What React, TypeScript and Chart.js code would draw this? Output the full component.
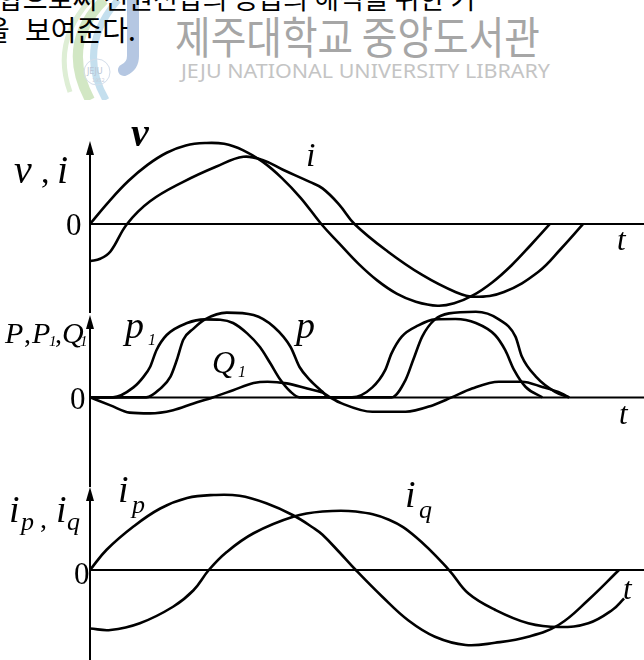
import React, { useEffect, useRef } from "react";
import { Chart, registerables } from "chart.js";

Chart.register(...registerables);

// ---------- data (t in electrical degrees, values per unit of each panel) ----------
const T_MAX = 433.6;

// panel 1: v, i
const V_T = [0, 15, 30, 45, 60, 75, 90, 105, 120, 135, 150, 165, 181, 195, 210, 225, 240, 255, 272, 285, 300, 315, 330, 345, 360];
const V_VAL = [0, 0.28, 0.53, 0.73, 0.88, 0.97, 1.0, 0.99, 0.91, 0.77, 0.57, 0.32, 0, -0.24, -0.49, -0.7, -0.86, -0.96, -1.01, -0.98, -0.88, -0.72, -0.51, -0.26, 0];
const I_T = [0, 8, 16, 29, 47, 73, 99, 120, 135, 151, 172, 182, 195, 207, 233, 260, 286, 301, 324, 351, 369, 386];
const I_VAL = [-0.46, -0.43, -0.34, 0, 0.28, 0.52, 0.71, 0.83, 0.79, 0.67, 0.52, 0.44, 0.24, 0, -0.34, -0.63, -0.84, -0.9, -0.84, -0.59, -0.3, 0];

// panel 2: p, p1, Q1
const P1_T = [0, 18, 34, 42, 47, 52, 60, 76, 90, 102, 112, 123, 133, 141, 149, 157, 164, 205, 221, 231, 236, 244, 257, 270, 286, 302, 317, 325, 332, 341, 354];
const P1_VAL = [0, 0, 0.125, 0.26, 0.38, 0.59, 0.78, 0.93, 0.975, 0.97, 0.93, 0.8, 0.63, 0.43, 0.22, 0.07, 0, 0, 0.125, 0.34, 0.55, 0.76, 0.9, 0.975, 0.98, 0.93, 0.78, 0.59, 0.34, 0.13, 0];
const P_T = [0, 44, 55, 63, 68, 73, 81, 90, 107, 128, 144, 157, 164, 172, 182, 187, 236, 247, 253, 260, 270, 281, 302, 320, 333, 338, 349, 364, 375];
const P_VAL = [0, 0, 0.11, 0.26, 0.47, 0.72, 0.86, 0.975, 1.06, 1.03, 0.88, 0.63, 0.38, 0.22, 0.07, 0, 0, 0.22, 0.47, 0.76, 0.975, 1.05, 1.07, 0.975, 0.76, 0.51, 0.26, 0.07, 0];
const Q1_T = [0, 16, 31, 47, 65, 81, 96, 112, 128, 139, 154, 170, 182, 188, 197, 221, 247, 268, 283, 299, 320, 338, 354, 369, 375];
const Q1_VAL = [0, -0.1, -0.19, -0.2, -0.16, -0.075, 0, 0.09, 0.18, 0.196, 0.175, 0.11, 0.06, 0, -0.075, -0.18, -0.18, -0.1, 0, 0.11, 0.196, 0.196, 0.13, 0.05, 0];

// panel 3: ip, iq
const IP_T = [0, 13, 34, 55, 76, 97, 117, 138, 159, 175, 182, 195, 208, 229, 249, 270, 294, 317, 343, 367, 390, 414];
const IP_VAL = [0, 0.27, 0.58, 0.82, 0.96, 1.0, 0.99, 0.89, 0.73, 0.56, 0.47, 0.24, 0, -0.36, -0.67, -0.89, -1.0, -0.97, -0.89, -0.73, -0.4, 0];
const IQ_T = [0, 16, 39, 65, 81, 93, 107, 128, 159, 182, 208, 234, 255, 281, 296, 317, 343, 367, 390, 409, 418];
const IQ_VAL = [-0.78, -0.8, -0.71, -0.49, -0.27, 0, 0.24, 0.49, 0.71, 0.78, 0.78, 0.67, 0.44, 0, -0.31, -0.53, -0.71, -0.76, -0.71, -0.53, -0.38];

// ---------- helpers ----------
type Run = { s: string; x: number; y: number; size: number; f: "i" | "n" | "bi" };

const pts = (t: number[], v: number[]) => t.map((x, k) => ({ x, y: v[k] }));

const ds = (label: string, t: number[], v: number[], monotone: boolean) => ({
  label,
  data: pts(t, v),
  borderColor: "#000",
  borderWidth: 2.6,
  pointRadius: 0,
  fill: false,
  tension: 0.4,
  cubicInterpolationMode: monotone ? ("monotone" as const) : ("default" as const),
  clip: false as const,
});

function decor(runs: Run[], top: number) {
  return {
    id: "decor",
    afterDatasetsDraw(chart: any) {
      const { ctx, chartArea, scales } = chart;
      const y0 = scales.y.getPixelForValue(0);
      const ax = scales.x.getPixelForValue(0);
      ctx.save();
      ctx.strokeStyle = "#000";
      ctx.fillStyle = "#000";
      ctx.lineWidth = 2;
      ctx.beginPath();
      ctx.moveTo(ax, y0);
      ctx.lineTo(chartArea.right, y0);
      ctx.stroke();
      ctx.beginPath();
      ctx.moveTo(ax, chartArea.top + 6);
      ctx.lineTo(ax, chartArea.bottom);
      ctx.stroke();
      ctx.beginPath();
      ctx.moveTo(ax, chartArea.top);
      ctx.lineTo(ax - 4, chartArea.top + 14);
      ctx.lineTo(ax + 4, chartArea.top + 14);
      ctx.closePath();
      ctx.fill();
      ctx.textBaseline = "alphabetic";
      ctx.textAlign = "left";
      for (const r of runs) {
        const st = r.f === "i" ? "italic " : r.f === "bi" ? "italic bold " : "";
        ctx.font = `${st}${r.size}px "Liberation Serif", "DejaVu Serif", serif`;
        ctx.fillText(r.s, r.x, r.y - top);
      }
      ctx.restore();
    },
  };
}

type PanelProps = {
  top: number;
  height: number;
  padTop: number;
  yMin: number;
  yMax: number;
  datasets: any[];
  runs: Run[];
};

function Panel({ top, height, padTop, yMin, yMax, datasets, runs }: PanelProps) {
  const ref = useRef<HTMLCanvasElement | null>(null);
  useEffect(() => {
    if (!ref.current) return;
    const chart = new Chart(ref.current, {
      type: "line",
      data: { datasets },
      options: {
        animation: false,
        responsive: false,
        maintainAspectRatio: false,
        events: [],
        layout: { padding: { left: 90, right: 0, top: padTop, bottom: 0 } },
        scales: {
          x: { type: "linear", min: 0, max: T_MAX, display: false },
          y: { type: "linear", min: yMin, max: yMax, display: false },
        },
        plugins: { legend: { display: false }, tooltip: { enabled: false } },
      },
      plugins: [decor(runs, top)],
    } as any);
    return () => chart.destroy();
  }, []);
  return (
    <canvas
      ref={ref}
      width={644}
      height={height}
      style={{ position: "absolute", left: 0, top, width: 644, height }}
    />
  );
}

function Header() {
  const kr = '"Noto Sans CJK KR", "Noto Sans CJK SC", sans-serif';
  return (
    <svg width={644} height={100} style={{ position: "absolute", left: 0, top: 0 }}>
      <g opacity={0.8}>
        <path d="M 104 0 Q 60 44 90 100" stroke="#c8e2b6" strokeWidth={10} fill="none" />
        <path d="M 118 0 Q 76 48 106 100" stroke="#b6d8ea" strokeWidth={7} fill="none" />
        <path d="M 90 0 Q 52 42 70 92" stroke="#d6ebcb" strokeWidth={5} fill="none" />
        <path d="M 133 0 L 133 56 Q 133 66 124 70" stroke="#a3badb" strokeWidth={12} fill="none" strokeLinecap="round" />
        <circle cx={97} cy={72} r={13} fill="none" stroke="#c9d6e6" strokeWidth={1} />
        <text x={87} y={74} fontSize={8} fill="#a9b7cc" fontFamily="DejaVu Sans, sans-serif">JEJU</text>
        <text x={92} y={82} fontSize={5} fill="#b9c4d4" fontFamily="DejaVu Sans, sans-serif">1952</text>
      </g>
      <text x={-2} y={9} fontSize={27} fill="#000" fontFamily={kr}>
        합으로써 전원전압의 공급의 해석을 위한 기
      </text>
      <text x={-16} y={41} fontSize={28} fill="#000" fontFamily={kr}>
        을
      </text>
      <text x={25} y={41} fontSize={28} fill="#000" fontFamily={kr}>
        보여준다.
      </text>
      <text
        x={175}
        y={54}
        fontSize={44}
        fill="#a6a6a6"
        fontFamily={kr}
        textLength={365}
        lengthAdjust="spacingAndGlyphs"
      >
        제주대학교 중앙도서관
      </text>
      <text
        x={181}
        y={78}
        fontSize={19}
        fill="#c4c4c4"
        fontFamily='"Noto Sans", "DejaVu Sans", sans-serif'
        textLength={369}
        lengthAdjust="spacingAndGlyphs"
      >
        JEJU NATIONAL UNIVERSITY LIBRARY
      </text>
    </svg>
  );
}

export default function App() {
  const topRuns: Run[] = [
    { s: "v", x: 131, y: 146, size: 40, f: "bi" },
    { s: "v", x: 14, y: 183, size: 40, f: "i" },
    { s: ",", x: 41, y: 183, size: 34, f: "n" },
    { s: "i", x: 57, y: 183, size: 40, f: "i" },
    { s: "i", x: 306, y: 166, size: 34, f: "i" },
    { s: "0", x: 66, y: 235, size: 31, f: "n" },
    { s: "t", x: 617, y: 250, size: 31, f: "i" },
  ];
  const midRuns: Run[] = [
    { s: "P", x: 5, y: 343, size: 30, f: "i" },
    { s: ",", x: 24, y: 343, size: 28, f: "n" },
    { s: "P", x: 32, y: 343, size: 30, f: "i" },
    { s: "1", x: 49, y: 346, size: 15, f: "i" },
    { s: ",", x: 55, y: 343, size: 28, f: "n" },
    { s: "Q", x: 62, y: 343, size: 30, f: "i" },
    { s: "1", x: 80, y: 346, size: 15, f: "i" },
    { s: "p", x: 125, y: 338, size: 38, f: "i" },
    { s: "1", x: 148, y: 345, size: 16, f: "i" },
    { s: "p", x: 296, y: 338, size: 38, f: "i" },
    { s: "Q", x: 212, y: 373, size: 32, f: "i" },
    { s: "1", x: 238, y: 377, size: 16, f: "i" },
    { s: "0", x: 70, y: 409, size: 31, f: "n" },
    { s: "t", x: 619, y: 424, size: 31, f: "i" },
  ];
  const botRuns: Run[] = [
    { s: "i", x: 9, y: 522, size: 38, f: "i" },
    { s: "p", x: 21, y: 530, size: 26, f: "i" },
    { s: ",", x: 40, y: 528, size: 28, f: "n" },
    { s: "i", x: 56, y: 522, size: 38, f: "i" },
    { s: "q", x: 67, y: 530, size: 26, f: "i" },
    { s: "i", x: 118, y: 502, size: 38, f: "i" },
    { s: "p", x: 132, y: 513, size: 26, f: "i" },
    { s: "i", x: 405, y: 507, size: 38, f: "i" },
    { s: "q", x: 419, y: 518, size: 26, f: "i" },
    { s: "0", x: 74, y: 584, size: 31, f: "n" },
    { s: "t", x: 623, y: 599, size: 31, f: "i" },
  ];

  return (
    <div
      style={{
        position: "absolute",
        left: 0,
        top: 0,
        width: 644,
        height: 660,
        overflow: "hidden",
        background: "#fff",
      }}
    >
      <Header />
      <Panel
        top={88}
        height={225}
        padTop={53}
        yMin={-1.1}
        yMax={1.025}
        datasets={[ds("v", V_T, V_VAL, false), ds("i", I_T, I_VAL, false)]}
        runs={topRuns}
      />
      <Panel
        top={303}
        height={184}
        padTop={12}
        yMin={-1.12}
        yMax={1.03}
        datasets={[ds("p1", P1_T, P1_VAL, true), ds("p", P_T, P_VAL, true), ds("Q1", Q1_T, Q1_VAL, true)]}
        runs={midRuns}
      />
      <Panel
        top={476}
        height={184}
        padTop={11}
        yMin={-1.2}
        yMax={1.107}
        datasets={[ds("ip", IP_T, IP_VAL, false), ds("iq", IQ_T, IQ_VAL, false)]}
        runs={botRuns}
      />
    </div>
  );
}
